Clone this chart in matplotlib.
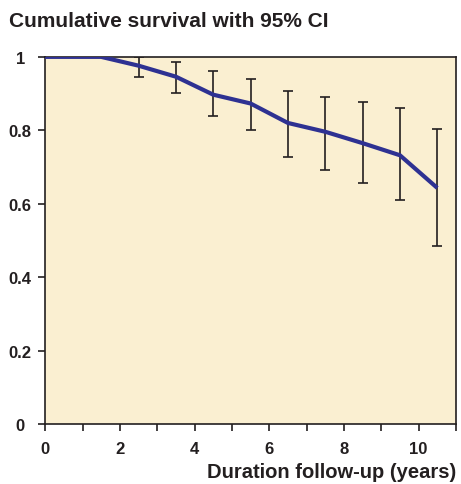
import matplotlib
matplotlib.use("Agg")
import matplotlib.pyplot as plt
from matplotlib.ticker import MultipleLocator

plt.rcParams['font.family'] = ['Liberation Sans', 'DejaVu Sans']

# years of follow-up and survival estimate
years = [0, 0.5, 1.5, 2.5, 3.5, 4.5, 5.5, 6.5, 7.5, 8.5, 9.5, 10.5]
survival = [1.0, 1.0, 1.0, 0.976, 0.946, 0.897, 0.873, 0.820, 0.796, 0.765, 0.732, 0.643]
ci_low = [1.0, 1.0, 1.0, 0.945, 0.901, 0.839, 0.800, 0.727, 0.692, 0.657, 0.609, 0.485]
ci_high = [1.0, 1.0, 1.0, 1.0, 0.985, 0.962, 0.939, 0.907, 0.892, 0.877, 0.860, 0.804]

fig = plt.figure(figsize=(4.61, 4.85), dpi=100)
ax = fig.add_axes([0.098, 0.1237, 0.891, 0.757])
ax.set_facecolor('#faefd1')

err_lo = [s - l for s, l in zip(survival, ci_low)]
err_hi = [h - s for s, h in zip(survival, ci_high)]
ax.errorbar(years[1:], survival[1:], yerr=[err_lo[1:], err_hi[1:]], fmt='none',
            ecolor='#231f20', elinewidth=1.2, capsize=3.3, capthick=1.2, zorder=2)
ax.plot(years, survival, color='#2e3192', lw=3.0, solid_capstyle='butt', zorder=3)

ax.set_xlim(0, 11)
ax.set_ylim(0, 1)
ax.set_xticks([0, 2, 4, 6, 8, 10])
ax.xaxis.set_minor_locator(MultipleLocator(1))
ax.set_yticks([0, 0.2, 0.4, 0.6, 0.8, 1])
ax.set_yticklabels(['0', '0.2', '0.4', '0.6', '0.8', '1'])
ax.tick_params(axis='both', which='both', direction='out', length=5, width=1.2,
               color='#231f20', labelsize=12, labelcolor='#231f20')
ax.tick_params(axis='x', pad=7)
ax.tick_params(axis='y', pad=13)
for lbl in ax.get_xticklabels() + ax.get_yticklabels():
    lbl.set_fontweight('bold')
for lbl in ax.get_yticklabels():
    lbl.set_horizontalalignment('center')
for sp in ax.spines.values():
    sp.set_color('#231f20')
    sp.set_linewidth(1.2)

fig.text(0.02, 0.955, 'Cumulative survival with 95% CI', fontsize=15,
         fontweight='bold', color='#231f20', va='center', ha='left')
fig.text(0.989, 0.026, 'Duration follow-up (years)', fontsize=14.5,
         fontweight='bold', color='#231f20', va='center', ha='right')

fig.savefig('out.png', dpi=100)
